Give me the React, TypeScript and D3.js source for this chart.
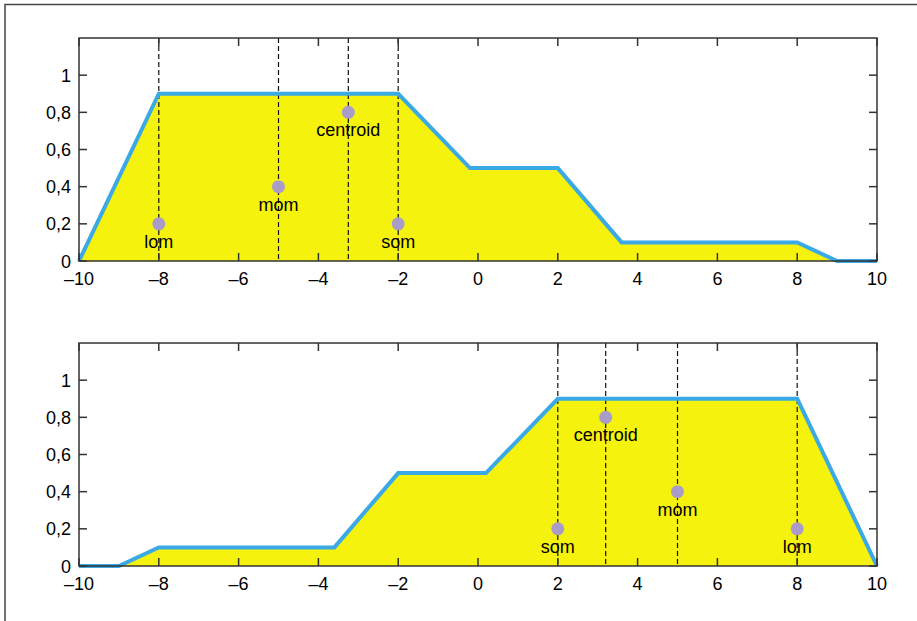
import React, { useEffect, useRef } from 'react';
import * as d3 from 'd3';

// aggregated membership function, top panel
const topX = [-10, -8, -2, -0.2, 2, 3.6, 8, 9, 10];
const topY = [0, 0.9, 0.9, 0.5, 0.5, 0.1, 0.1, 0, 0];
// bottom panel (mirrored shape)
const botX = [-10, -9, -8, -3.6, -2, 0.2, 2, 8, 10];
const botY = [0, 0, 0.1, 0.1, 0.5, 0.5, 0.9, 0.9, 0];

// defuzzification markers
const markerNames = ['lom', 'mom', 'centroid', 'som'];
const topMarkerX = [-8, -5, -3.25, -2];
const botMarkerX = [8, 5, 3.2, 2];
const markerY = [0.2, 0.4, 0.8, 0.2];

const xTicks = [-10, -8, -6, -4, -2, 0, 2, 4, 6, 8, 10];
const yTicks = [0, 0.2, 0.4, 0.6, 0.8, 1];

const W = 917;
const H = 621;

const fmtY = (v: number) => (v === 0 ? '0' : v === 1 ? '1' : d3.format('.1f')(v).replace('.', ','));
const fmtX = (v: number) => (v < 0 ? '\u2013' + Math.abs(v) : String(v));

const App = () => {
  const svgRef = useRef<SVGSVGElement>(null);

  useEffect(() => {
    const svg = d3.select(svgRef.current);
    svg.selectAll('*').remove();

    //outer frame
    svg
      .append('rect')
      .attr('x', 5)
      .attr('y', 4.5)
      .attr('width', W + 20)
      .attr('height', H + 20)
      .attr('fill', 'none')
      .attr('stroke', '#444')
      .attr('stroke-width', 1.5);

    const panels = [
      { top: 38, bottom: 261, xs: topX, ys: topY, mx: topMarkerX },
      { top: 343, bottom: 566, xs: botX, ys: botY, mx: botMarkerX }
    ];

    panels.forEach((p) => {
      const x = d3.scaleLinear().domain([-10, 10]).range([79, 877]);
      const y = d3.scaleLinear().domain([0, 1.2]).range([p.bottom, p.top]);
      const g = svg.append('g');
      const pts: [number, number][] = p.xs.map((v, i) => [v, p.ys[i]]);

      //yellow area under the curve
      const area = d3
        .area<[number, number]>()
        .x((d) => x(d[0]))
        .y0(y(0))
        .y1((d) => y(d[1]));
      g.append('path').datum(pts).attr('d', area).attr('fill', '#f5f20e');

      //dashed marker lines
      p.mx.forEach((v) => {
        g.append('line')
          .attr('x1', x(v))
          .attr('x2', x(v))
          .attr('y1', y(1.2))
          .attr('y2', y(0))
          .attr('stroke', '#111')
          .attr('stroke-width', 1.2)
          .attr('stroke-dasharray', '5,3');
      });

      //the curve itself
      const line = d3
        .line<[number, number]>()
        .x((d) => x(d[0]))
        .y((d) => y(d[1]));
      g.append('path')
        .datum(pts)
        .attr('d', line)
        .attr('fill', 'none')
        .attr('stroke', '#3aa9e6')
        .attr('stroke-width', 4)
        .attr('stroke-linejoin', 'miter');

      //dots + labels
      p.mx.forEach((v, i) => {
        g.append('circle')
          .attr('cx', x(v))
          .attr('cy', y(markerY[i]))
          .attr('r', 6.5)
          .attr('fill', '#a99cc8');
        g.append('text')
          .attr('x', x(v))
          .attr('y', y(markerY[i]) + 24)
          .attr('text-anchor', 'middle')
          .attr('font-family', 'Liberation Sans, Arial, sans-serif')
          .attr('font-size', 18)
          .attr('fill', '#000')
          .text(markerNames[i]);
      });

      //axes box
      g.append('rect')
        .attr('x', x(-10))
        .attr('y', y(1.2))
        .attr('width', x(10) - x(-10))
        .attr('height', y(0) - y(1.2))
        .attr('fill', 'none')
        .attr('stroke', '#333')
        .attr('stroke-width', 1.5);

      //inward ticks on all sides
      xTicks.forEach((t) => {
        g.append('line')
          .attr('x1', x(t)).attr('x2', x(t))
          .attr('y1', y(0)).attr('y2', y(0) - 8)
          .attr('stroke', '#333').attr('stroke-width', 1.5);
        g.append('line')
          .attr('x1', x(t)).attr('x2', x(t))
          .attr('y1', y(1.2)).attr('y2', y(1.2) + 8)
          .attr('stroke', '#333').attr('stroke-width', 1.5);
        g.append('text')
          .attr('x', x(t))
          .attr('y', y(0) + 24)
          .attr('text-anchor', 'middle')
          .attr('font-family', 'Liberation Sans, Arial, sans-serif')
          .attr('font-size', 18)
          .text(fmtX(t));
      });
      yTicks.forEach((t) => {
        g.append('line')
          .attr('x1', x(-10)).attr('x2', x(-10) + 8)
          .attr('y1', y(t)).attr('y2', y(t))
          .attr('stroke', '#333').attr('stroke-width', 1.5);
        g.append('line')
          .attr('x1', x(10)).attr('x2', x(10) - 8)
          .attr('y1', y(t)).attr('y2', y(t))
          .attr('stroke', '#333').attr('stroke-width', 1.5);
        g.append('text')
          .attr('x', x(-10) - 8)
          .attr('y', y(t) + 6.5)
          .attr('text-anchor', 'end')
          .attr('font-family', 'Liberation Sans, Arial, sans-serif')
          .attr('font-size', 18)
          .text(fmtY(t));
      });
    });
  }, []);

  return (
    <svg
      ref={svgRef}
      width={W}
      height={H}
      style={{ position: 'absolute', left: 0, top: 0, background: '#fff' }}
    ></svg>
  );
};

export default App;
